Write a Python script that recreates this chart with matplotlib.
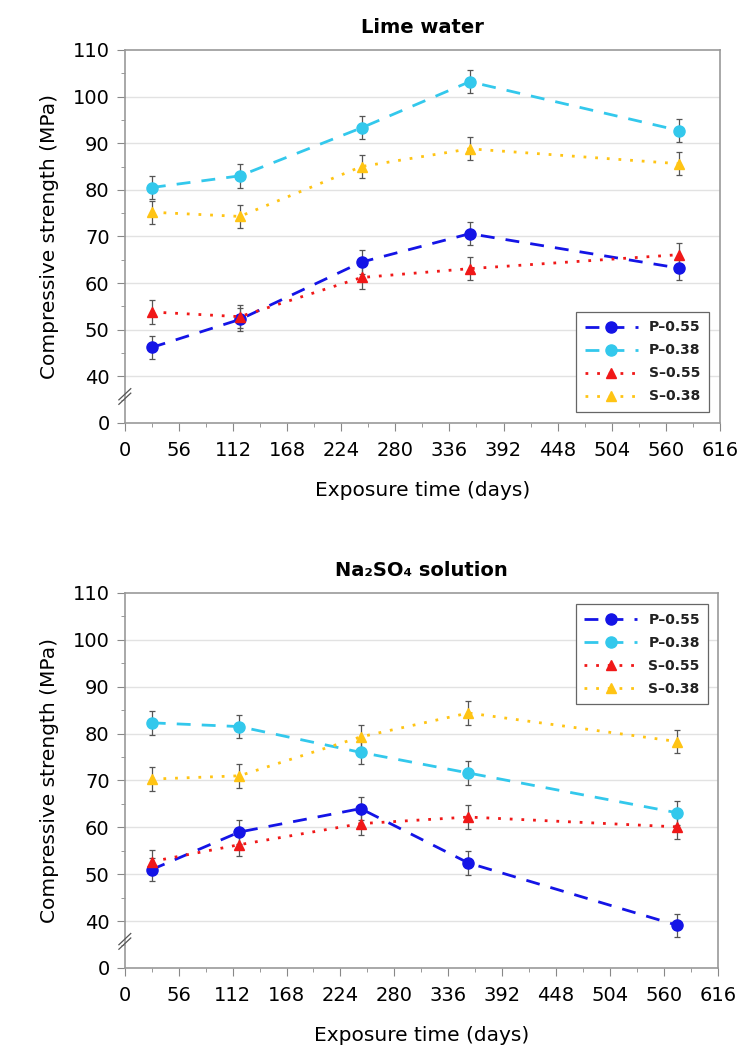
import matplotlib
matplotlib.use("Agg")
import matplotlib.pyplot as plt

plt.rcParams['font.family'] = ['DejaVu Sans']

days = [28, 119, 245, 357, 574]
series_names = ["P\u20130.55", "P\u20130.38", "S\u20130.55", "S\u20130.38"]

lime_p055 = [46.2, 52.2, 64.5, 70.6, 63.2]
lime_p038 = [80.5, 83.0, 93.3, 103.2, 92.7]
lime_s055 = [53.8, 52.8, 61.2, 63.1, 66.1]
lime_s038 = [75.2, 74.3, 85.0, 88.8, 85.6]

na_p055 = [51.0, 59.0, 64.0, 52.4, 39.1]
na_p038 = [82.3, 81.5, 76.0, 71.6, 63.1]
na_s055 = [52.7, 56.3, 60.8, 62.2, 60.1]
na_s038 = [70.3, 71.0, 79.3, 84.4, 78.3]

err = 2.5

ytick_vals = [30, 40, 50, 60, 70, 80, 90, 100, 110]
ytick_labels = ["0", "40", "50", "60", "70", "80", "90", "100", "110"]
xtick_vals = list(range(0, 617, 56))

colors = ["#1414e6", "#33c8ec", "#f01818", "#ffc414"]
markers = ["o", "o", "^", "^"]
lstyles = [(0, (5.0, 4.0)), (0, (5.0, 4.0)), (0, (1.0, 3.2)), (0, (1.0, 3.2))]
msizes = [8, 8, 7.5, 7.5]

fig = plt.figure(figsize=(7.43, 10.54), dpi=100)
ax1 = fig.add_axes([0.168, 0.5987, 0.801, 0.3539])
ax2 = fig.add_axes([0.168, 0.0816, 0.798, 0.3558])

def draw(ax, data, title, legend_loc, legend_anchor):
    for vals, name, c, m, ls, ms in zip(data, series_names, colors, markers, lstyles, msizes):
        ax.errorbar(days, vals, yerr=err, fmt="none", ecolor="#555555",
                    elinewidth=0.9, capsize=2.2, capthick=0.9, zorder=2)
        ax.plot(days, vals, color=c, marker=m, linestyle=ls, markersize=ms,
                linewidth=2.0, label=name, zorder=3)
    ax.set_xlim(0, 616)
    ax.set_ylim(30, 110)
    ax.set_xticks(xtick_vals)
    ax.set_xticks(range(0, 617, 28), minor=True)
    ax.set_yticks(ytick_vals)
    ax.set_yticklabels(ytick_labels)
    ax.set_yticks(range(35, 111, 5), minor=True)
    ax.tick_params(axis="both", which="major", direction="out", length=6,
                   color="#888888", labelsize=14, pad=5)
    ax.tick_params(axis="x", which="major", pad=7)
    ax.tick_params(axis="both", which="minor", direction="out", length=3, color="#888888")
    for v in ytick_vals[1:-1]:
        ax.axhline(v, color="#e2e2e2", linewidth=1.0, zorder=0)
    for s in ax.spines.values():
        s.set_color("#999999")
        s.set_linewidth(1.2)
    ax.set_title(title, fontsize=14, fontweight="bold", pad=12)
    ax.set_xlabel("Exposure time (days)", fontsize=14.5, labelpad=15)
    ax.set_ylabel("Compressive strength (MPa)", fontsize=14.5, labelpad=10)
    # axis break marks
    for dy in (0.0, 0.012):
        ax.plot([-0.01, 0.01], [0.05 + dy, 0.08 + dy], transform=ax.transAxes,
                color="#555555", linewidth=0.9, clip_on=False, zorder=5)
    leg = ax.legend(loc=legend_loc, bbox_to_anchor=legend_anchor,
                    prop={"size": 10, "weight": "bold"},
                    frameon=True, fancybox=False, edgecolor="#666666",
                    handlelength=3.8, borderpad=0.6, labelspacing=0.65,
                    handletextpad=0.8, borderaxespad=0, framealpha=1)
    leg.get_frame().set_linewidth(0.9)
    for t in leg.get_texts():
        t.set_color("#222222")

draw(ax1, [lime_p055, lime_p038, lime_s055, lime_s038], "Lime water",
     "lower right", (0.981, 0.03))
draw(ax2, [na_p055, na_p038, na_s055, na_s038], "Na\u2082SO\u2084 solution",
     "upper right", (0.984, 0.97))

fig.savefig("out.png", dpi=100)
